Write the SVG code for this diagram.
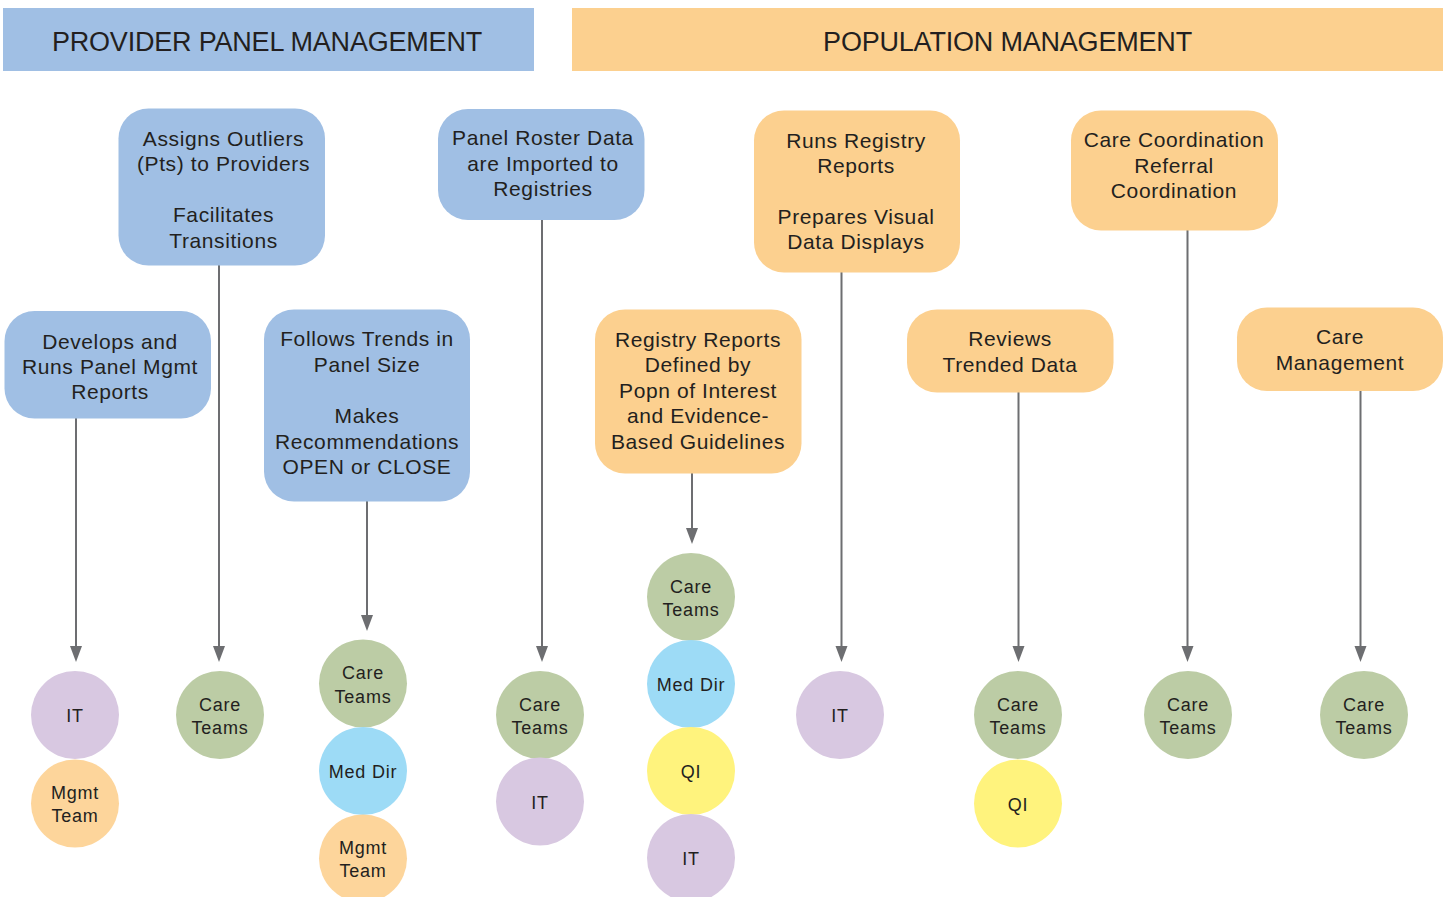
<svg xmlns="http://www.w3.org/2000/svg" width="1448" height="897" viewBox="0 0 1448 897">
<defs>
<style>
text{font-family:"Liberation Sans",Arial,sans-serif;fill:#231f20;text-anchor:middle}
.hdr{font-size:27px;letter-spacing:-0.2px}
.bt{font-size:21px;letter-spacing:0.6px}
.ct{font-size:18px;letter-spacing:0.8px}
.blue{fill:#a0bfe4}
.orange{fill:#fcd08f}
.g{fill:#bccca5}
.p{fill:#d8c8e1}
.m{fill:#9ddbf6}
.y{fill:#fff37d}
.o{fill:#fdd59b}
.conn line{stroke:#6d6e71;stroke-width:2;fill:none}
.conn path{fill:#6d6e71}
</style>
</defs>
<rect width="1448" height="897" fill="#ffffff"/>

<g id="hdr-provider">
<rect x="3" y="8" width="531" height="63" class="blue"/>
<text class="hdr" x="267" y="50.5">PROVIDER PANEL MANAGEMENT</text>
</g>
<g id="hdr-population">
<rect x="572" y="8" width="871" height="63" class="orange"/>
<text class="hdr" x="1007.5" y="50.5">POPULATION MANAGEMENT</text>
</g>

<g class="conn" id="connectors">
<line x1="76" y1="418" x2="76" y2="646"/>
<path d="M70,646 L82,646 L76,662 Z"/>
<line x1="219" y1="265" x2="219" y2="646"/>
<path d="M213,646 L225,646 L219,662 Z"/>
<line x1="367" y1="501" x2="367" y2="615"/>
<path d="M361,615 L373,615 L367,631 Z"/>
<line x1="542" y1="220" x2="542" y2="646"/>
<path d="M536,646 L548,646 L542,662 Z"/>
<line x1="692" y1="473" x2="692" y2="528"/>
<path d="M686,528 L698,528 L692,544 Z"/>
<line x1="841.5" y1="272" x2="841.5" y2="646"/>
<path d="M835.5,646 L847.5,646 L841.5,662 Z"/>
<line x1="1018.5" y1="392" x2="1018.5" y2="646"/>
<path d="M1012.5,646 L1024.5,646 L1018.5,662 Z"/>
<line x1="1187.5" y1="230" x2="1187.5" y2="646"/>
<path d="M1181.5,646 L1193.5,646 L1187.5,662 Z"/>
<line x1="1360.5" y1="391" x2="1360.5" y2="646"/>
<path d="M1354.5,646 L1366.5,646 L1360.5,662 Z"/>
</g>

<g id="box-assigns">
<rect x="118.5" y="108.5" width="206.5" height="157" rx="30" class="blue"/>
<text class="bt" x="223.5" y="145.5">Assigns Outliers</text>
<text class="bt" x="223.5" y="171">(Pts) to Providers</text>
<text class="bt" x="223.5" y="222">Facilitates</text>
<text class="bt" x="223.5" y="248">Transitions</text>
</g>
<g id="box-roster">
<rect x="438" y="109" width="206.5" height="111" rx="30" class="blue"/>
<text class="bt" x="543" y="145">Panel Roster Data</text>
<text class="bt" x="543" y="171">are Imported to</text>
<text class="bt" x="543" y="196">Registries</text>
</g>
<g id="box-runs">
<rect x="754" y="110.5" width="206" height="162" rx="30" class="orange"/>
<text class="bt" x="856" y="147.5">Runs Registry</text>
<text class="bt" x="856" y="173">Reports</text>
<text class="bt" x="856" y="224">Prepares Visual</text>
<text class="bt" x="856" y="249">Data Displays</text>
</g>
<g id="box-carecoord">
<rect x="1071" y="110.5" width="207" height="120" rx="30" class="orange"/>
<text class="bt" x="1174" y="147">Care Coordination</text>
<text class="bt" x="1174" y="172.5">Referral</text>
<text class="bt" x="1174" y="198">Coordination</text>
</g>
<g id="box-develops">
<rect x="4.5" y="311" width="206.5" height="107.5" rx="30" class="blue"/>
<text class="bt" x="110" y="348.5">Develops and</text>
<text class="bt" x="110" y="373.5">Runs Panel Mgmt</text>
<text class="bt" x="110" y="399">Reports</text>
</g>
<g id="box-follows">
<rect x="264" y="309.5" width="206" height="192" rx="30" class="blue"/>
<text class="bt" x="367" y="346">Follows Trends in</text>
<text class="bt" x="367" y="372">Panel Size</text>
<text class="bt" x="367" y="423">Makes</text>
<text class="bt" x="367" y="448.5">Recommendations</text>
<text class="bt" x="367" y="474">OPEN or CLOSE</text>
</g>
<g id="box-registry">
<rect x="595" y="309.5" width="206.5" height="164" rx="30" class="orange"/>
<text class="bt" x="698" y="346.5">Registry Reports</text>
<text class="bt" x="698" y="372">Defined by</text>
<text class="bt" x="698" y="397.5">Popn of Interest</text>
<text class="bt" x="698" y="423">and Evidence-</text>
<text class="bt" x="698" y="448.5">Based Guidelines</text>
</g>
<g id="box-reviews">
<rect x="907" y="309.5" width="206.5" height="83" rx="30" class="orange"/>
<text class="bt" x="1010" y="345.5">Reviews</text>
<text class="bt" x="1010" y="371.5">Trended Data</text>
</g>
<g id="box-caremgmt">
<rect x="1237" y="307.5" width="206" height="83.5" rx="30" class="orange"/>
<text class="bt" x="1340" y="343.5">Care</text>
<text class="bt" x="1340" y="369.5">Management</text>
</g>

<g id="c1-it"><circle cx="75" cy="715" r="44" class="p"/><text class="ct" x="75" y="722">IT</text></g>
<g id="c1-mgmt"><circle cx="75" cy="803.5" r="44" class="o"/><text class="ct" x="75" y="798.5">Mgmt</text><text class="ct" x="75" y="822">Team</text></g>

<g id="c2-care"><circle cx="220" cy="715" r="44" class="g"/><text class="ct" x="220" y="710.5">Care</text><text class="ct" x="220" y="734">Teams</text></g>

<g id="c3-care"><circle cx="363" cy="683.5" r="44" class="g"/><text class="ct" x="363" y="679">Care</text><text class="ct" x="363" y="702.5">Teams</text></g>
<g id="c3-med"><circle cx="363" cy="771" r="44" class="m"/><text class="ct" x="363" y="778">Med Dir</text></g>
<g id="c3-mgmt"><circle cx="363" cy="858.5" r="44" class="o"/><text class="ct" x="363" y="853.5">Mgmt</text><text class="ct" x="363" y="877">Team</text></g>

<g id="c4-care"><circle cx="540" cy="715" r="44" class="g"/><text class="ct" x="540" y="710.5">Care</text><text class="ct" x="540" y="734">Teams</text></g>
<g id="c4-it"><circle cx="540" cy="801.5" r="44" class="p"/><text class="ct" x="540" y="808.5">IT</text></g>

<g id="c5-care"><circle cx="691" cy="597" r="44" class="g"/><text class="ct" x="691" y="592.5">Care</text><text class="ct" x="691" y="616">Teams</text></g>
<g id="c5-med"><circle cx="691" cy="684" r="44" class="m"/><text class="ct" x="691" y="691">Med Dir</text></g>
<g id="c5-qi"><circle cx="691" cy="771" r="44" class="y"/><text class="ct" x="691" y="778">QI</text></g>
<g id="c5-it"><circle cx="691" cy="858" r="44" class="p"/><text class="ct" x="691" y="865">IT</text></g>

<g id="c6-it"><circle cx="840" cy="715" r="44" class="p"/><text class="ct" x="840" y="722">IT</text></g>

<g id="c7-care"><circle cx="1018" cy="715" r="44" class="g"/><text class="ct" x="1018" y="710.5">Care</text><text class="ct" x="1018" y="734">Teams</text></g>
<g id="c7-qi"><circle cx="1018" cy="803.5" r="44" class="y"/><text class="ct" x="1018" y="810.5">QI</text></g>

<g id="c8-care"><circle cx="1188" cy="715" r="44" class="g"/><text class="ct" x="1188" y="710.5">Care</text><text class="ct" x="1188" y="734">Teams</text></g>

<g id="c9-care"><circle cx="1364" cy="715" r="44" class="g"/><text class="ct" x="1364" y="710.5">Care</text><text class="ct" x="1364" y="734">Teams</text></g>
</svg>
